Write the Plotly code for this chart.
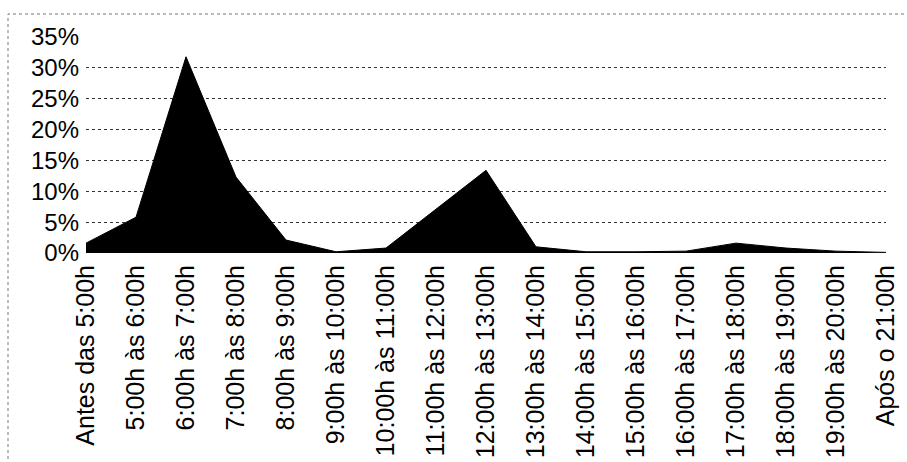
import plotly.graph_objects as go

categories = [
    "Antes das 5:00h", "5:00h às 6:00h", "6:00h às 7:00h", "7:00h às 8:00h",
    "8:00h às 9:00h", "9:00h às 10:00h", "10:00h às 11:00h", "11:00h às 12:00h",
    "12:00h às 13:00h", "13:00h às 14:00h", "14:00h às 15:00h", "15:00h às 16:00h",
    "16:00h às 17:00h", "17:00h às 18:00h", "18:00h às 19:00h", "19:00h às 20:00h",
    "Após o 21:00h",
]
values = [0.016, 0.058, 0.318, 0.123, 0.021, 0.002, 0.008, 0.071,
          0.134, 0.010, 0.002, 0.002, 0.003, 0.016, 0.008, 0.003, 0.001]
y_ticks = [0, 0.05, 0.10, 0.15, 0.20, 0.25, 0.30, 0.35]

W, H = 907, 462
L, R, T, B = 86, 21, 37, 209
FONT = "Arial, Liberation Sans, sans-serif"

fig = go.Figure()
fig.add_trace(go.Scatter(
    x=categories, y=values, mode="lines", fill="tozeroy",
    line=dict(color="black", width=1), fillcolor="black",
    hoverinfo="x+y",
))

def px_x(p):
    return (p - L) / (W - L - R)

def px_y(p):
    return 1 - (p - T) / (H - T - B)

fig.add_shape(type="rect", xref="paper", yref="paper",
              x0=px_x(8), x1=px_x(912), y0=px_y(470), y1=px_y(14),
              line=dict(color="#777", width=1, dash="dot"), layer="below")

fig.update_layout(
    width=W, height=H,
    margin=dict(l=L, r=R, t=T, b=B, autoexpand=False),
    paper_bgcolor="white", plot_bgcolor="white",
    showlegend=False,
    font=dict(family=FONT, color="black", size=24),
    xaxis=dict(
        type="category", categoryorder="array", categoryarray=categories,
        range=[0, len(categories) - 1], tickangle=-90, automargin=False,
        showgrid=False, zeroline=False, showline=False,
        ticks="", ticklabelstandoff=6,
        tickfont=dict(family=FONT, size=25, color="black"),
    ),
    yaxis=dict(
        range=[0, 0.35], tickvals=y_ticks, tickformat=".0%", automargin=False,
        showgrid=True, gridcolor="#333", griddash="dot", gridwidth=1,
        zeroline=False, showline=False, ticks="", ticklabelstandoff=6,
        tickfont=dict(family=FONT, size=24, color="black"),
    ),
)

fig.write_html("out.html",
               config={"displayModeBar": False},
               post_script="document.body.style.margin='0';document.body.style.overflow='hidden';")
